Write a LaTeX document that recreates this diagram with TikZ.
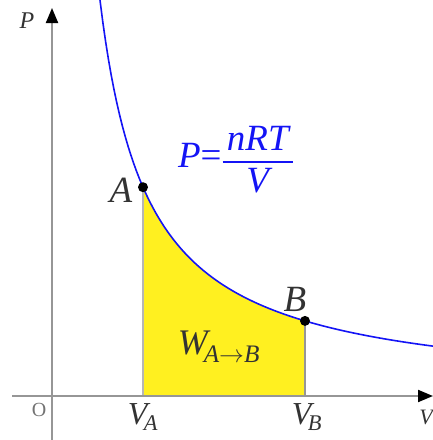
\documentclass[tikz,border=0pt]{standalone}
\usepackage{amsmath}
\usepackage{fontspec}
\setmainfont{Liberation Serif}
\usetikzlibrary{arrows.meta}
\definecolor{axisgray}{RGB}{150,150,150}
\definecolor{areayellow}{RGB}{255,240,32}
\definecolor{curveblue}{RGB}{20,20,245}
\newcommand{\ti}[1]{\text{\itshape #1}}
\tikzset{
  axisline/.style={axisgray, line width=2pt, -{Triangle[width=12pt,length=15pt,black]}},
  dotpt/.style={circle, fill=black, inner sep=0pt, minimum size=10pt},
  ptlabel/.style={font=\fontsize{37}{42}\selectfont\itshape, text=black!80, inner sep=0pt},
  ticklabel/.style={font=\fontsize{32}{36}\selectfont, text=black!80, inner sep=0pt},
  axlabel/.style={font=\fontsize{24}{28}\selectfont\itshape, text=black!80, inner sep=0pt}
}
\begin{document}
\begin{tikzpicture}[x=1pt,y=-1pt]
\useasboundingbox (0,0) rectangle (433,440);
% area
\fill[areayellow] (143,396) -- (143,187.2) -- plot[domain=143:305,samples=60] (\x,{396-190/(\x-52)*100}) -- (305,396) -- cycle;
\draw[axisgray!70, line width=1.5pt] (143,188) -- (143,396);
\draw[axisgray, line width=1.5pt] (305,321) -- (305,396);
% axes
\coordinate (xs) at (12,396);
\coordinate (xe) at (433,396);
\coordinate (ys) at (52,440);
\coordinate (ye) at (52,8);
\draw[axisline] (xs) -- (xe);
\draw[axisline] (ys) -- (ye);
% curve
\draw[curveblue, line width=1.6pt] plot[domain=100:433,samples=120] (\x,{396-190/(\x-52)*100});
% points
\node[dotpt] (A) at (143,187.2) {};
\node[dotpt] (B) at (305,320.9) {};
% labels
\node[ptlabel] (Alab) at (121,190) {A};
\node[ptlabel] (Blab) at (295,299) {B};
\node[font=\fontsize{37}{42}\selectfont, text=curveblue, inner sep=0pt] (form) at (236,160) {$\ti{P}\text{=}\genfrac{}{}{2pt}{0}{\,\ti{nRT}\,}{\ti{V}}$};
\node[font=\fontsize{36}{40}\selectfont, text=black!80, inner sep=0pt] (W) at (219,347) {$\ti{W}_{\!\ti{A}\to \ti{B}}$};
\node[ticklabel] (VA) at (143,417) {$\ti{V}_{\!\ti{A}}$};
\node[ticklabel] (VB) at (307,417) {$\ti{V}_{\!\ti{B}}$};
\node[axlabel] (Plab) at (27,21) {P};
\node[axlabel, font=\fontsize{22}{26}\selectfont\itshape] (Vlab) at (426,417) {V};
\node[axlabel, font=\fontsize{20}{24}\selectfont, text=black!55] (O) at (39,410) {O};
\end{tikzpicture}
\end{document}
